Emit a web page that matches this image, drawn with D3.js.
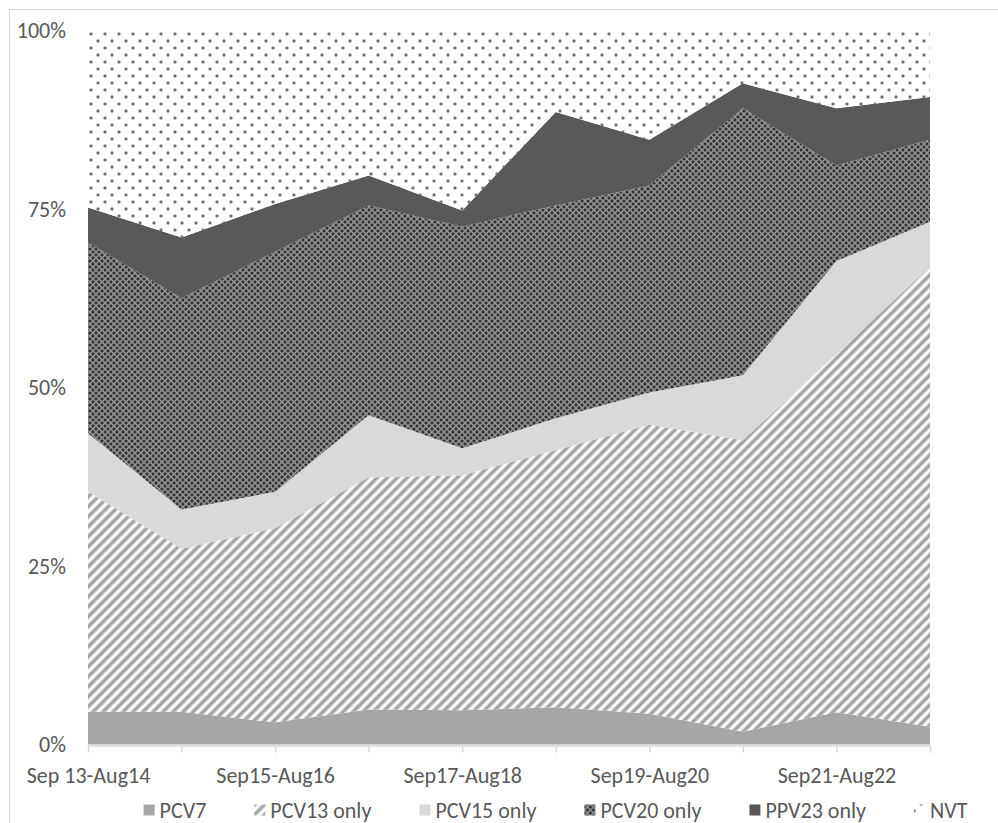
<!DOCTYPE html>
<html>
<head>
<meta charset="utf-8">
<script src="https://cdn.jsdelivr.net/npm/d3@7"></script>
<style>
  html, body { margin: 0; padding: 0; background: #ffffff; }
  svg { display: block; }
  text { font-family: Calibri, Carlito, Lato, "Open Sans", sans-serif; fill: #595959; }
</style>
</head>
<body>
<svg id="chart" width="998" height="823"></svg>
<script>
// Serotype coverage by season (share of cases, %)
const categories = ["Sep 13-Aug14", "Sep14-Aug15", "Sep15-Aug16", "Sep16-Aug17", "Sep17-Aug18",
                    "Sep18-Aug19", "Sep19-Aug20", "Sep20-Aug21", "Sep21-Aug22", "Sep22-Aug23"];
const seriesNames = ["PCV7", "PCV13 only", "PCV15 only", "PCV20 only", "PPV23 only", "NVT"];
const pcv7   = [4.6, 4.6, 3.1, 4.9, 4.8, 5.2, 4.3, 1.8, 4.5, 2.5];
const pcv13  = [30.8, 22.8, 27.2, 32.5, 32.9, 36.0, 40.5, 40.8, 50.2, 64.4];
const pcv15  = [8.2, 5.5, 5.1, 8.7, 3.8, 4.5, 4.5, 9.1, 13.0, 6.3];
const pcv20  = [26.7, 29.6, 33.6, 29.4, 31.0, 29.8, 29.0, 37.4, 13.4, 11.5];
const ppv23  = [4.9, 8.5, 6.7, 4.2, 2.3, 13.1, 6.4, 3.5, 8.0, 6.0];
const nvt    = [24.8, 29.0, 24.3, 20.3, 25.2, 11.4, 15.3, 7.4, 10.9, 9.3];
const yTicks = [0, 25, 50, 75, 100];
const xLabelEvery = 2;

const valuesBySeries = [pcv7, pcv13, pcv15, pcv20, ppv23, nvt];
const table = categories.map((c, i) => {
  const row = { category: c };
  seriesNames.forEach((s, k) => { row[s] = valuesBySeries[k][i]; });
  return row;
});

const FONT = 22;
const svg = d3.select("#chart");
const defs = svg.append("defs");

// --- fill patterns ---
// soft diagonal stripes
const grad = defs.append("linearGradient").attr("id", "stripeGrad")
  .attr("x1", "0").attr("x2", "1").attr("y1", "0").attr("y2", "0");
[[0, "#ffffff"], [0.12, "#ffffff"], [0.32, "#b4b4b4"], [0.5, "#979797"], [0.68, "#b4b4b4"], [0.88, "#ffffff"], [1, "#ffffff"]]
  .forEach(([o, c]) => grad.append("stop").attr("offset", o).attr("stop-color", c));
const stripe = defs.append("pattern").attr("id", "stripes")
  .attr("patternUnits", "userSpaceOnUse").attr("width", 7.07).attr("height", 10)
  .attr("patternTransform", "rotate(45)");
stripe.append("rect").attr("width", 7.07).attr("height", 10).attr("fill", "url(#stripeGrad)");

// dark diamond lattice
const hatch = defs.append("pattern").attr("id", "lattice")
  .attr("patternUnits", "userSpaceOnUse").attr("width", 6).attr("height", 6);
hatch.append("rect").attr("width", 6).attr("height", 6).attr("fill", "#535353");
hatch.append("path").attr("d", "M0,0L6,6M6,0L0,6M-3,3L3,-3M3,9L9,3M-3,3L3,9M3,-3L9,3")
  .attr("stroke", "#9a9a9a").attr("stroke-width", 1.1).attr("fill", "none");
[[0, 3], [6, 3], [3, 0], [3, 6]].forEach(([cx, cy]) =>
  hatch.append("circle").attr("cx", cx).attr("cy", cy).attr("r", 1.1).attr("fill", "#2a2a2a"));

// staggered dots
const dots = defs.append("pattern").attr("id", "dots")
  .attr("patternUnits", "userSpaceOnUse").attr("width", 14).attr("height", 14)
  .attr("x", 88).attr("y", 30);
dots.append("rect").attr("width", 14).attr("height", 14).attr("fill", "#ffffff");
[[3, 4], [10, 11]].forEach(([cx, cy]) => {
  dots.append("circle").attr("cx", cx).attr("cy", cy).attr("r", 2.0).attr("fill", "#c6c6c6");
  dots.append("circle").attr("cx", cx).attr("cy", cy).attr("r", 1.3).attr("fill", "#6a6a6a");
});

const fills = {
  "PCV7": "#a6a6a6",
  "PCV13 only": "url(#stripes)",
  "PCV15 only": "#d9d9d9",
  "PCV20 only": "url(#lattice)",
  "PPV23 only": "#595959",
  "NVT": "url(#dots)"
};

// outer frame
svg.append("rect").attr("x", 9.5).attr("y", 9.5).attr("width", 1100).attr("height", 1000)
  .attr("fill", "none").attr("stroke", "#d9d9d9").attr("stroke-width", 1);

// --- scales ---
const x = d3.scalePoint().domain(categories).range([88, 930]);
const y = d3.scaleLinear().domain([0, 100]).range([744.5, 30.5]);

const stacked = d3.stack().keys(seriesNames)(table);
const area = d3.area()
  .x(d => x(d.data.category))
  .y0(d => y(d[0]))
  .y1(d => y(d[1]));

svg.append("g").selectAll("path")
  .data(stacked)
  .join("path")
  .attr("d", area)
  .attr("fill", d => fills[d.key])
  .attr("stroke", "none");

// --- x axis ---
const xAxis = d3.axisBottom(x)
  .tickSizeInner(7).tickSizeOuter(0)
  .tickFormat((d, i) => (i % xLabelEvery === 0 ? d : ""));
const gx = svg.append("g").attr("transform", "translate(0,745.5)").call(xAxis);
gx.select(".domain").attr("stroke", "#d9d9d9").attr("stroke-width", 1.5);
gx.selectAll(".tick line").attr("stroke", "#d9d9d9").attr("stroke-width", 1.5);
gx.selectAll(".tick text").attr("fill", "#595959").attr("font-size", FONT)
  .attr("y", 30).attr("dy", "0.35em");

// --- y axis ---
const yAxis = d3.axisLeft(y).tickValues(yTicks).tickSize(0).tickPadding(22)
  .tickFormat(d => d + "%");
const gy = svg.append("g").attr("transform", "translate(88,0)").call(yAxis);
gy.select(".domain").remove();
gy.selectAll(".tick text").attr("fill", "#595959").attr("font-size", FONT);

// --- legend ---
const legend = svg.append("g");
const legendY = 810;
const items = legend.selectAll("g").data(seriesNames).join("g");
items.append("rect").attr("width", 11).attr("height", 11).attr("y", legendY - 5.5)
  .attr("fill", d => fills[d]);
items.append("text").attr("x", 16).attr("y", legendY).attr("dy", "0.35em")
  .attr("font-size", FONT).text(d => d);
let cursor = 0;
const gap = 48;
items.each(function () {
  const g = d3.select(this);
  g.attr("transform", `translate(${cursor},0)`);
  const w = g.select("text").node().getComputedTextLength();
  cursor += 16 + w + gap;
});
const legendWidth = cursor - gap;
legend.attr("transform", `translate(${555.5 - legendWidth / 2},0)`);
</script>
</body>
</html>
